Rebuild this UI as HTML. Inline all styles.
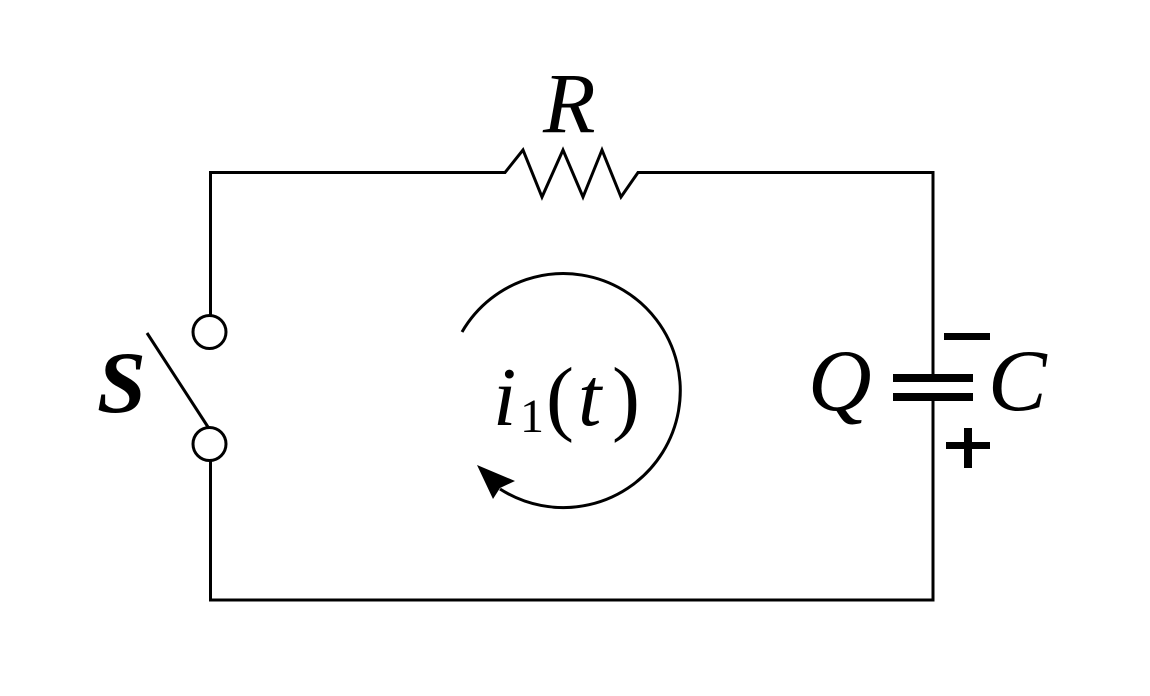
<!DOCTYPE html>
<html><head><meta charset="utf-8"><style>
html,body{margin:0;padding:0;background:#fff;}
svg text{font-family:"Liberation Serif","Times New Roman",serif;font-style:italic;fill:#000;}
</style></head><body>
<svg width="1150" height="691" viewBox="0 0 1150 691" xmlns="http://www.w3.org/2000/svg">
<g fill="none" stroke="#000" stroke-width="3">
<polyline points="210.5,315 210.5,172.5 505,172.5 523,150 542,197 563,150 583,197 602,150 621,197 638,172.5 933,172.5 933,378"/>
<polyline points="933,397 933,600 210.5,600 210.5,461"/>
<circle cx="209.5" cy="332" r="16.5"/>
<circle cx="209.5" cy="444" r="16.5"/>
<line x1="147" y1="333" x2="208" y2="427"/>
<path d="M462,332 A117,117 0 1 1 500,489"/>
</g>
<polygon points="477,465 515,481 500,488 493,499" fill="#000"/>
<rect x="893" y="374" width="80" height="8" fill="#000"/>
<rect x="893" y="393" width="80" height="8" fill="#000"/>
<rect x="944" y="333" width="46" height="7" fill="#000"/>
<rect x="946" y="442" width="44" height="7" fill="#000"/>
<rect x="964" y="428" width="8" height="40" fill="#000"/>
<text x="543" y="132" font-size="86">R</text>
<text x="97" y="412" font-size="88" font-weight="bold">S</text>
<text x="808" y="410" font-size="88">Q</text>
<text x="988" y="410" font-size="88">C</text>
<text x="493" y="425" font-size="84">i</text>
<text x="520" y="432" font-size="48" style="font-style:normal">1</text>
<text x="546" y="425" font-size="84" style="font-style:normal">(</text>
<text x="578" y="425" font-size="84">t</text>
<text x="612" y="425" font-size="84" style="font-style:normal">)</text>
</svg>
</body></html>
